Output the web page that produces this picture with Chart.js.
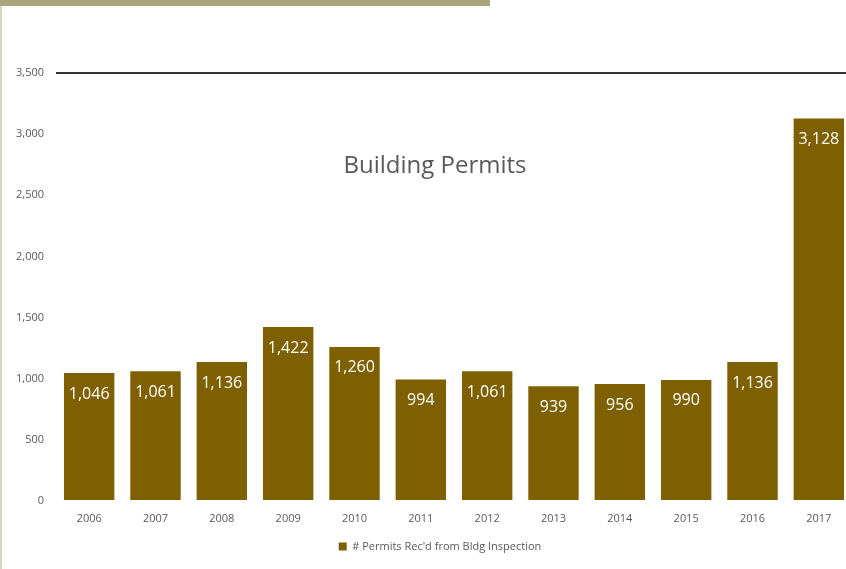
<!DOCTYPE html>
<html>
<head>
<meta charset="utf-8">
<script src="https://cdn.jsdelivr.net/npm/chart.js@4/dist/chart.umd.min.js"></script>
<style>
  html, body { margin: 0; padding: 0; background: #fff; overflow: hidden; }
  body { width: 846px; height: 569px; position: relative; }
  .top-bar { position: absolute; left: 0; top: 0; width: 490px; height: 6px; background: #aaa67c; }
  .side-bar { position: absolute; left: 0; top: 6px; width: 2px; height: 563px; background: #d9d7c2; }
  .wrap { position: absolute; left: 0; top: 0; width: 852px; height: 569px; }
  .chart-title {
    position: absolute; left: 235px; width: 400px; top: 147px; text-align: center;
    font-family: "Open Sans", sans-serif; font-size: 24px; color: #595959;
  }
</style>
</head>
<body>
<div class="top-bar"></div>
<div class="side-bar"></div>
<div class="wrap"><canvas id="permitsChart" width="852" height="569"></canvas></div>
<div class="chart-title">Building Permits</div>
<script>
const YEARS = ["2006", "2007", "2008", "2009", "2010", "2011", "2012", "2013", "2014", "2015", "2016", "2017"];
const PERMITS = [1046, 1061, 1136, 1422, 1260, 994, 1061, 939, 956, 990, 1136, 3128];
const Y_TICKS = [0, 500, 1000, 1500, 2000, 2500, 3000, 3500];
const SERIES_NAME = "# Permits Rec'd from Bldg Inspection";

const BAR_COLOR = "#7f6000";
const AXIS_TEXT = "#595959";

const fmt = (v) => Number(v).toLocaleString("en-US");

// value labels written inside the top of each bar
const barLabels = {
  id: "barLabels",
  afterDatasetsDraw(chart) {
    const { ctx } = chart;
    const meta = chart.getDatasetMeta(0);
    ctx.save();
    ctx.fillStyle = "#ffffff";
    ctx.font = '16px "Open Sans", sans-serif';
    ctx.textAlign = "center";
    ctx.textBaseline = "middle";
    meta.data.forEach((bar, i) => {
      ctx.fillText(fmt(PERMITS[i]), bar.x, bar.y + 21);
    });
    ctx.restore();
  },
};

// centre the legend under the plot area instead of the whole canvas
const legendShift = {
  id: "legendShift",
  afterLayout(chart) {
    const lg = chart.legend;
    if (!lg) return;
    const dx = (chart.chartArea.left - 28) / 2;
    lg.left += dx;
    lg.right += dx;
  },
};

const ctx = document.getElementById("permitsChart").getContext("2d");
new Chart(ctx, {
  type: "bar",
  data: {
    labels: YEARS,
    datasets: [
      {
        label: SERIES_NAME,
        data: PERMITS,
        backgroundColor: BAR_COLOR,
        borderWidth: 0,
        barPercentage: 0.76,
        categoryPercentage: 1,
      },
    ],
  },
  options: {
    responsive: false,
    animation: false,
    layout: { padding: { top: 73, right: 0, left: 0, bottom: 7 } },
    plugins: {
      title: { display: false },
      tooltip: { enabled: false },
      legend: {
        position: "bottom",
        labels: {
          boxWidth: 8,
          boxHeight: 8,
          padding: 8,
          color: AXIS_TEXT,
          font: { family: "Open Sans", size: 11 },
        },
      },
    },
    scales: {
      y: {
        min: 0,
        max: 3500,
        afterBuildTicks: (scale) => {
          scale.ticks = Y_TICKS.map((v) => ({ value: v }));
        },
        afterFit: (scale) => {
          scale.width = 56;
        },
        border: { display: false },
        grid: {
          drawTicks: false,
          lineWidth: 2,
          color: (c) => (c.tick && c.tick.value === 3500 ? "#333333" : "rgba(0,0,0,0)"),
        },
        ticks: {
          padding: 12,
          color: AXIS_TEXT,
          font: { family: "Open Sans", size: 11 },
          callback: (v) => fmt(v),
        },
      },
      x: {
        border: { display: false },
        grid: { display: false, drawTicks: false },
        afterFit: (scale) => {
          scale.height = 32;
        },
        ticks: {
          padding: 11,
          color: AXIS_TEXT,
          font: { family: "Open Sans", size: 11 },
          maxRotation: 0,
        },
      },
    },
  },
  plugins: [barLabels, legendShift],
});
</script>
</body>
</html>
